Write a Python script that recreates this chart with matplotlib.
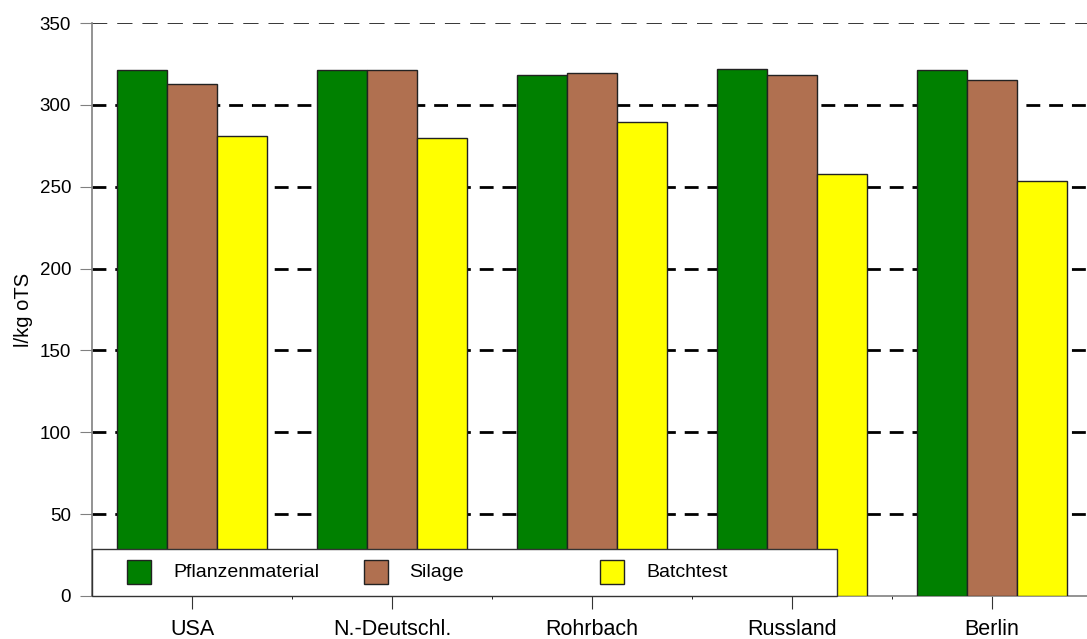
import numpy as np
import matplotlib
matplotlib.use('Agg')
import matplotlib.pyplot as plt
from matplotlib.patches import Rectangle

plt.rcParams['font.family'] = ['Liberation Sans', 'DejaVu Sans']

# data
categories = ['USA', 'N.-Deutschl.', 'Rohrbach', 'Russland', 'Berlin']
series_names = ['Pflanzenmaterial', 'Silage', 'Batchtest']
pflanzenmaterial = [321, 321, 318, 322, 321]
silage = [313, 321, 319.5, 318, 315]
batchtest = [281, 280, 289.5, 258, 253.5]
y_ticks = [0, 50, 100, 150, 200, 250, 300, 350]

colors = ['#008000', '#b07050', '#ffff00']
values = [pflanzenmaterial, silage, batchtest]

fig = plt.figure(figsize=(10.87, 6.39), dpi=100)
ax = fig.add_axes([92 / 1087, 43 / 639, 1 - 92 / 1087, 573 / 639])

x = np.arange(len(categories))
width = 0.25
for i, (vals, col) in enumerate(zip(values, colors)):
    ax.bar(x + (i - 1) * width, vals, width, color=col, edgecolor='#222222',
           linewidth=1, zorder=3)

ax.set_xlim(-0.5, 4.475)
ax.set_ylim(0, 350)
ax.set_yticks(y_ticks)
ax.set_xticks(x)
ax.set_xticklabels(categories, fontsize=15.5)
ax.set_xticks(x[:-1] + 0.5, minor=True)
ax.tick_params(axis='y', labelsize=13.5, length=9, color='#808080', pad=6)
ax.tick_params(axis='x', which='major', length=9, color='#333333', pad=7.5)
ax.tick_params(axis='x', which='minor', length=2, color='black')

ax.set_ylabel('l/kg oTS', fontsize=14.5)
ax.yaxis.set_label_coords(-0.059, 0.5)

for s in ['top', 'right']:
    ax.spines[s].set_visible(False)
for s in ['left', 'bottom']:
    ax.spines[s].set_color('#808080')
    ax.spines[s].set_linewidth(1.2)

ax.yaxis.grid(True, color='black', linewidth=2, linestyle=(0, (5, 3.2)), zorder=1)
ax.set_axisbelow(True)
grid = ax.get_ygridlines()
grid[-1].set_linewidth(1.1)
grid[-1].set_dashes((10, 6.5))
grid[0].set_visible(False)

# legend box drawn SigmaPlot-style with evenly spaced entries
ax.add_patch(Rectangle((0, 0), 0.749, 0.082, transform=ax.transAxes,
                       facecolor='white', edgecolor='#333333', linewidth=1,
                       zorder=5, clip_on=False))
for i, (name, col) in enumerate(zip(series_names, colors)):
    x0 = 0.0352 + i * 0.2377
    ax.add_patch(Rectangle((x0, 0.021), 0.0242, 0.041, transform=ax.transAxes,
                           facecolor=col, edgecolor='#222222', linewidth=1,
                           zorder=6, clip_on=False))
    ax.text(x0 + 0.0462, 0.0415, name, transform=ax.transAxes, fontsize=14,
            va='center', ha='left', zorder=7)

fig.savefig('out.png', dpi=100)
